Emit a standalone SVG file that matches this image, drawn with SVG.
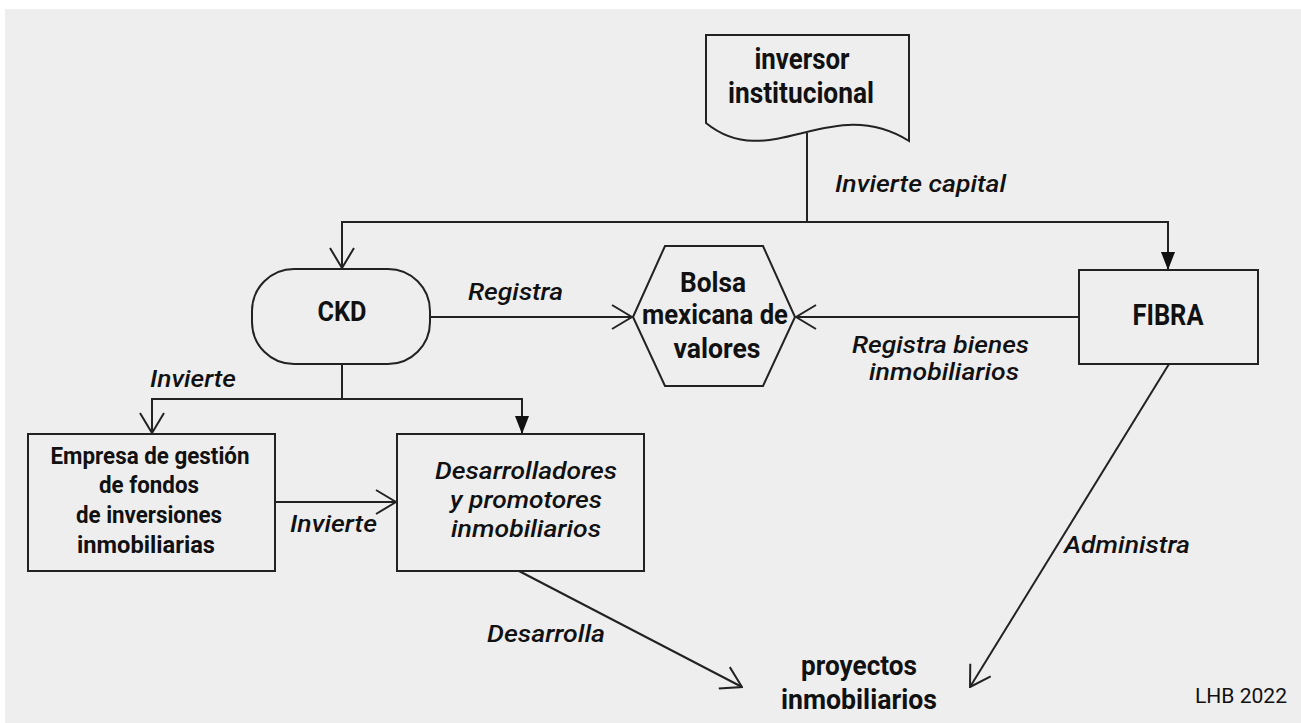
<svg xmlns="http://www.w3.org/2000/svg" width="1301" height="723" viewBox="0 0 1301 723">
<defs>
<style>
.shape{fill:none;stroke:#222;stroke-width:2}
.line{fill:none;stroke:#222;stroke-width:2}
.nt{font-family:Roboto,"Liberation Sans",sans-serif;font-weight:bold;fill:#111;text-anchor:middle}
.it{font-family:Roboto,"Liberation Sans",sans-serif;font-style:italic;font-weight:500;fill:#111;text-anchor:middle}
.lb{font-family:Roboto,"Liberation Sans",sans-serif;font-style:italic;font-weight:500;fill:#111;font-size:24px}
</style>
<marker id="open" viewBox="0 0 22 26" refX="21" refY="13" markerWidth="22" markerHeight="26" markerUnits="userSpaceOnUse" orient="auto">
<path d="M1,1 L21,13 L1,25" fill="none" stroke="#222" stroke-width="2"/>
</marker>
<marker id="filled" viewBox="0 0 18 14" refX="18" refY="7" markerWidth="18" markerHeight="14" markerUnits="userSpaceOnUse" orient="auto">
<path d="M0,0 L18,7 L0,14 Z" fill="#111"/>
</marker>
</defs>
<rect x="0" y="0" width="1301" height="723" fill="#ffffff"/>
<rect x="5" y="9" width="1296" height="714" fill="#eeeeee"/>

<g id="connectors">
<path class="line" d="M807,133 V222"/>
<path class="line" d="M807,222 H342 V268" marker-end="url(#open)"/>
<path class="line" d="M807,222 H1168 V270" marker-end="url(#filled)"/>
<path class="line" d="M430,317 H632" marker-end="url(#open)"/>
<path class="line" d="M1079,317 H796" marker-end="url(#open)"/>
<path class="line" d="M342,364 V399"/>
<path class="line" d="M342,399 H152 V433" marker-end="url(#open)"/>
<path class="line" d="M342,399 H522 V434" marker-end="url(#filled)"/>
<path class="line" d="M275,502 H396" marker-end="url(#open)"/>
<path class="line" d="M519,571 L742,687" marker-end="url(#open)"/>
<path class="line" d="M1169,364 L970,687" marker-end="url(#open)"/>
<text class="lb" x="835" y="192" textLength="171" lengthAdjust="spacingAndGlyphs">Invierte capital</text>
<text class="lb" x="468" y="300" textLength="95" lengthAdjust="spacingAndGlyphs">Registra</text>
<text class="lb" x="852" y="353" textLength="177" lengthAdjust="spacingAndGlyphs">Registra bienes</text>
<text class="lb" x="869" y="380" textLength="150" lengthAdjust="spacingAndGlyphs">inmobiliarios</text>
<text class="lb" x="150" y="387" textLength="86" lengthAdjust="spacingAndGlyphs">Invierte</text>
<text class="lb" x="290" y="532" textLength="87" lengthAdjust="spacingAndGlyphs">Invierte</text>
<text class="lb" x="487" y="642" textLength="118" lengthAdjust="spacingAndGlyphs">Desarrolla</text>
<text class="lb" x="1064" y="553" textLength="126" lengthAdjust="spacingAndGlyphs">Administra</text>
</g>

<g id="inversor">
<path class="shape" d="M706,123 V35 H909 V141 C830,92 770,175 706,123 Z"/>
<text class="nt" x="802" y="69" font-size="30" textLength="95" lengthAdjust="spacingAndGlyphs">inversor</text>
<text class="nt" x="801" y="103" font-size="30" textLength="146" lengthAdjust="spacingAndGlyphs">institucional</text>
</g>

<g id="ckd">
<rect class="shape" x="252" y="269" width="178" height="95" rx="42" ry="42"/>
<text class="nt" x="342" y="321" font-size="28" textLength="49" lengthAdjust="spacingAndGlyphs">CKD</text>
</g>

<g id="bolsa">
<path class="shape" d="M633,317 L665,246 H763 L795,317 L763,386 H665 Z"/>
<text class="nt" x="713" y="292" font-size="27" textLength="66" lengthAdjust="spacingAndGlyphs">Bolsa</text>
<text class="nt" x="715" y="324" font-size="27" textLength="146" lengthAdjust="spacingAndGlyphs">mexicana de</text>
<text class="nt" x="717" y="358" font-size="27" textLength="87" lengthAdjust="spacingAndGlyphs">valores</text>
</g>

<g id="fibra">
<rect class="shape" x="1079" y="270" width="179" height="94"/>
<text class="nt" x="1168" y="325" font-size="30" textLength="71" lengthAdjust="spacingAndGlyphs">FIBRA</text>
</g>

<g id="empresa">
<rect class="shape" x="28" y="434" width="247" height="137"/>
<text class="nt" x="150" y="464" font-size="23.5" textLength="199" lengthAdjust="spacingAndGlyphs">Empresa de gestión</text>
<text class="nt" x="149" y="493" font-size="23.5" textLength="100" lengthAdjust="spacingAndGlyphs">de fondos</text>
<text class="nt" x="149" y="523" font-size="23.5" textLength="146" lengthAdjust="spacingAndGlyphs">de inversiones</text>
<text class="nt" x="146" y="553" font-size="23.5" textLength="138" lengthAdjust="spacingAndGlyphs">inmobiliarias</text>
</g>

<g id="desarrolladores">
<rect class="shape" x="397" y="434" width="247" height="137"/>
<text class="it" x="526" y="479" font-size="24" textLength="182" lengthAdjust="spacingAndGlyphs">Desarrolladores</text>
<text class="it" x="526" y="508" font-size="24" textLength="152" lengthAdjust="spacingAndGlyphs">y promotores</text>
<text class="it" x="526" y="537" font-size="24" textLength="150" lengthAdjust="spacingAndGlyphs">inmobiliarios</text>
</g>

<g id="proyectos">
<text class="nt" x="859" y="675" font-size="28" textLength="116" lengthAdjust="spacingAndGlyphs">proyectos</text>
<text class="nt" x="859" y="709" font-size="28" textLength="156" lengthAdjust="spacingAndGlyphs">inmobiliarios</text>
</g>

<g id="credit">
<text x="1195" y="703" font-family="Roboto,'Liberation Sans',sans-serif" font-size="20" fill="#111" textLength="92" lengthAdjust="spacingAndGlyphs">LHB 2022</text>
</g>
</svg>
